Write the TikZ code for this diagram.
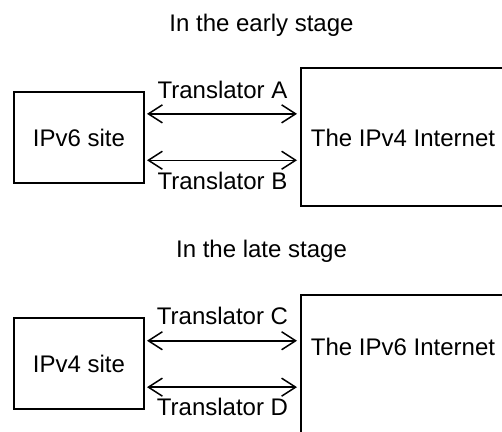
\documentclass[tikz,border=0pt]{standalone}
\usepackage{fontspec}
\setmainfont{Liberation Sans}
\usetikzlibrary{arrows.meta,calc}
\begin{document}
\begin{tikzpicture}[x=1pt,y=-1pt,
  font=\fontsize{24}{27}\selectfont,
  box/.style={draw,line width=1.5pt,inner sep=0pt,outer sep=0pt},
  arr/.style={line width=1.5pt,{Straight Barb[length=14pt,width=18pt,line width=1.5pt]}-{Straight Barb[length=14pt,width=18pt,line width=1.5pt]},shorten <=3pt,shorten >=4pt},
  lbl/.style={anchor=base,inner sep=0pt}]
\useasboundingbox (0,0) rectangle (502,431);
\clip (0,0) rectangle (502,431);
% early stage
\node[lbl] (t1) at (261.5,31) {In the early stage};
\node[box,minimum width=130pt,minimum height=91pt] (s6) at (79,137.5) {IPv6 site};
\node[box,minimum width=206pt,minimum height=138pt] (n4) at (404,137) {};
\node[anchor=base,inner sep=0pt] (n4t) at (403,146) {The IPv4 Internet};
\coordinate (a1) at ($(s6.north east)!0.24!(s6.south east)$);
\coordinate (a2) at ($(s6.north east)!0.75!(s6.south east)$);
\draw[arr] (a1) -- (a1 -| n4.west);
\draw[arr] (a2) -- (a2 -| n4.west);
\node[lbl] (tA) at ([yshift=15pt]$(a1)!0.5!(a1 -| n4.west)$) {Translator A};
\node[lbl] (tB) at ([yshift=-29pt]$(a2)!0.5!(a2 -| n4.west)$) {Translator B};
% late stage
\node[lbl] (t2) at (261.5,257) {In the late stage};
\node[box,minimum width=130pt,minimum height=91pt] (s4) at (79,363.5) {IPv4 site};
\node[box,minimum width=206pt,minimum height=160pt] (n6) at (404,375) {};
\node[anchor=base,inner sep=0pt] (n6t) at (403,355) {The IPv6 Internet};
\coordinate (c1) at ($(s4.north east)!0.25!(s4.south east)$);
\coordinate (c2) at ($(s4.north east)!0.76!(s4.south east)$);
\draw[arr] (c1) -- (c1 -| n6.west);
\draw[arr] (c2) -- (c2 -| n6.west);
\node[lbl] (tC) at ([yshift=16pt]$(c1)!0.5!(c1 -| n6.west)$) {Translator C};
\node[lbl] (tD) at ([yshift=-28pt]$(c2)!0.5!(c2 -| n6.west)$) {Translator D};
\end{tikzpicture}
\end{document}
